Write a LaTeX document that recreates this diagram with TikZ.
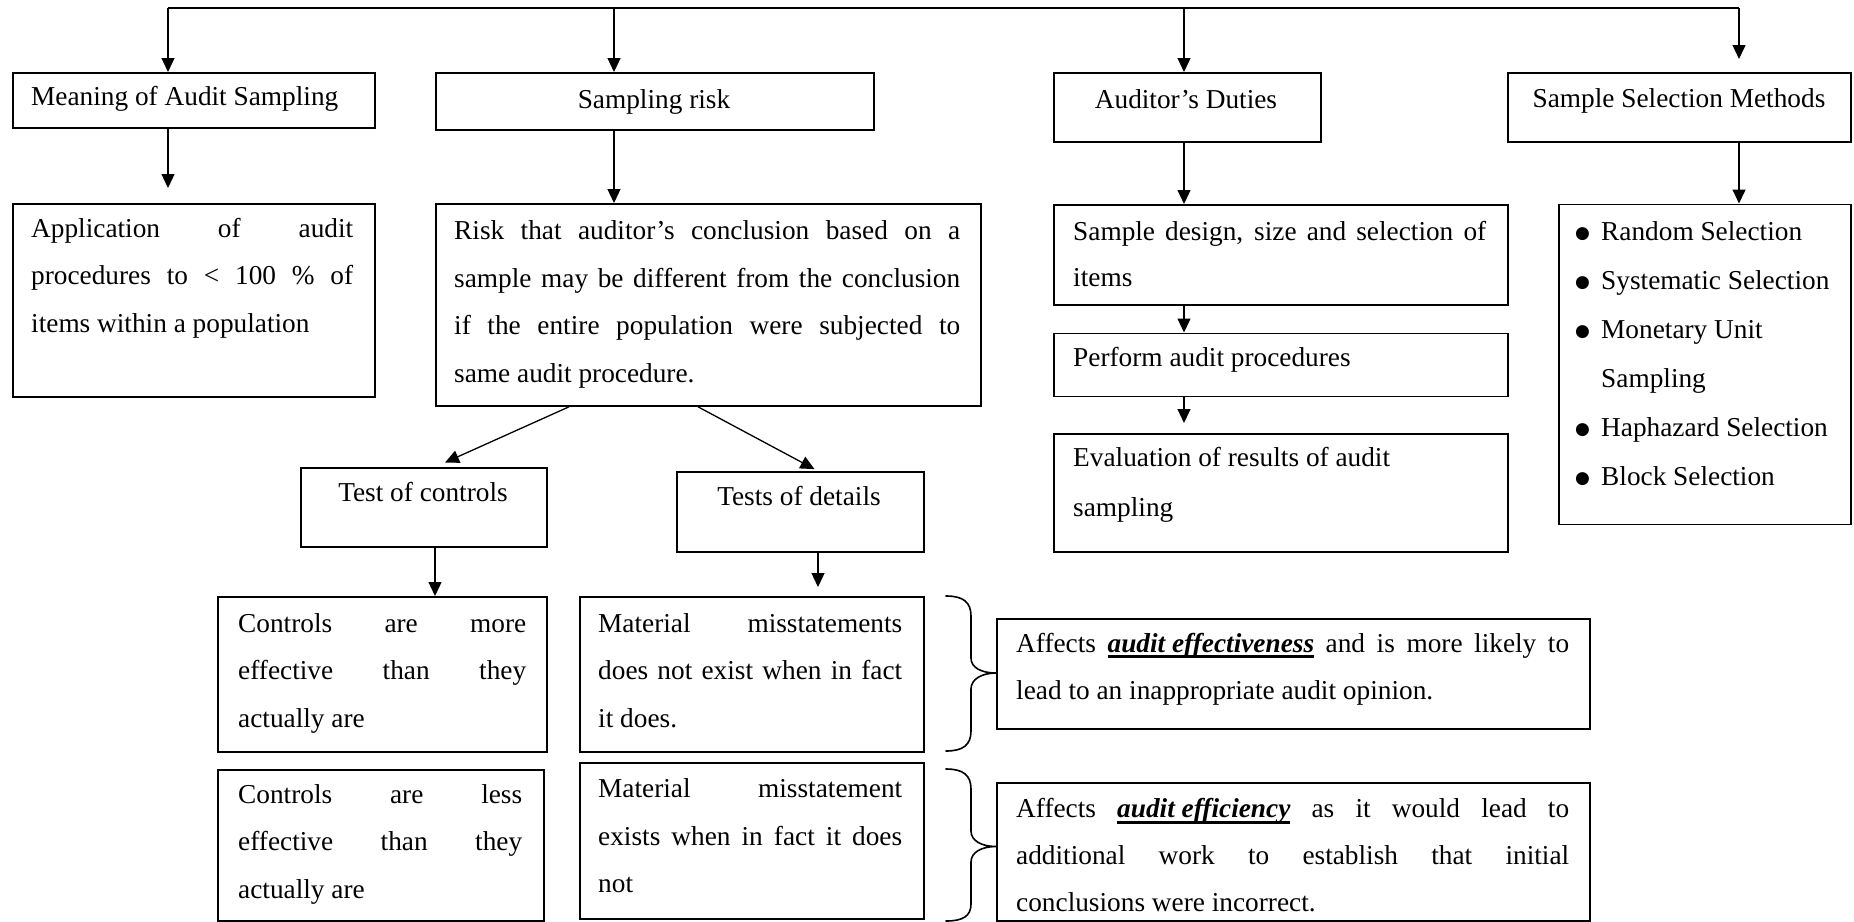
\documentclass[tikz,border=0pt]{standalone}
\usepackage{fontspec}
\setmainfont{Liberation Serif}
\newfontfamily\symfont{DejaVu Sans}
\usetikzlibrary{arrows.meta,calc}

% one justified line of a given width
\newcommand{\jl}[2]{\makebox[#1][s]{#2}}
% text block whose reference point is the first baseline
\newcommand{\tb}[2]{\parbox[t]{#1}{#2}}
% heavy underline set at a fixed depth
\newcommand{\ulx}[1]{\setbox0\hbox{#1}\rlap{\rule[-6.2pt]{\wd0}{2.9pt}}\box0\relax}
% list bullet and its hanging indent
\newcommand{\bul}{\makebox[25pt][l]{\hspace{-1pt}\raisebox{1.5pt}{\symfont\fontsize{17}{17}\selectfont ●}}}
\newcommand{\nobul}{\makebox[25pt][l]{}}

\begin{document}
\begin{tikzpicture}[x=1pt,y=-1pt,
  box/.style={draw, line width=1.8pt, inner sep=0pt, anchor=north west},
  txt/.style={anchor=base west, inner sep=0pt, font=\fontsize{27.3}{47.5}\selectfont},
  ctxt/.style={txt, anchor=base},
  link/.style={line width=1.3pt},
  arr/.style={line width=1.3pt, -{Triangle[length=14pt,width=13pt]}},
  bracestyle/.style={line width=1.6pt, line cap=round},
]
\useasboundingbox (0,0) rectangle (1854,921);

% ---------- boxes ----------
\node[box, minimum width=362, minimum height=55]  (meaning) at (12,72) {};
\node[box, minimum width=438, minimum height=57]  (srisk)   at (435,72) {};
\node[box, minimum width=267, minimum height=69]  (duties)  at (1053,72) {};
\node[box, minimum width=343, minimum height=69]  (ssm)     at (1507,72) {};

\node[box, minimum width=362, minimum height=193] (app)     at (12,203) {};
\node[box, minimum width=545, minimum height=202] (risk)    at (435,203) {};
\node[box, minimum width=454, minimum height=100] (design)  at (1053,204) {};
\node[box, minimum width=454, minimum height=63]  (perform) at (1053,332.5) {};
\node[box, minimum width=454, minimum height=118] (evalu)   at (1053,433) {};
\node[box, minimum width=292, minimum height=320] (list)    at (1558,203.5) {};

\node[box, minimum width=246, minimum height=79]  (toc)     at (300,467) {};
\node[box, minimum width=247, minimum height=80]  (tod)     at (676,471) {};

\node[box, minimum width=329, minimum height=155] (cmore)   at (217,596) {};
\node[box, minimum width=344, minimum height=155] (mat1)    at (579,596) {};
\node[box, minimum width=326, minimum height=151] (cless)   at (217,769) {};
\node[box, minimum width=344, minimum height=156] (mat2)    at (579,762) {};

\node[box, minimum width=593, minimum height=110] (eff1)    at (996,618) {};
\node[box, minimum width=593, minimum height=138] (eff2)    at (996,782) {};

% ---------- texts ----------
\node[txt]  (t-meaning) at (31,105.5) {Meaning of Audit Sampling};
\node[ctxt] (t-srisk)   at (654,108)  {Sampling risk};
\node[ctxt] (t-duties)  at (1186,108) {Auditor’s Duties};
\node[ctxt] (t-ssm)     at (1679,107.7) {Sample Selection Methods};

\node[txt] (t-app) at (31,237) {\tb{322pt}{%
  \jl{322pt}{Application of audit}\\
  \jl{322pt}{procedures to < 100 \% of}\\
  items within a population}};

\node[txt] (t-risk) at (454,239.5) {\tb{506pt}{%
  \jl{506pt}{Risk that auditor’s conclusion based on a}\\
  \jl{506pt}{sample may be different from the conclusion}\\
  \jl{506pt}{if the entire population were subjected to}\\
  same audit procedure.}};

\node[txt, font=\fontsize{27.3}{46.7}\selectfont] (t-design) at (1073,240) {\tb{413pt}{%
  \jl{413pt}{Sample design, size and selection of}\\
  items}};
\node[txt] (t-perform) at (1073,366.7) {Perform audit procedures};
\node[txt, font=\fontsize{27.3}{50}\selectfont] (t-evalu) at (1073,466) {\tb{413pt}{%
  Evaluation of results of audit\\
  sampling}};

\node[txt, font=\fontsize{27.3}{49}\selectfont] (t-list) at (1576,240) {\tb{270pt}{%
  \bul Random Selection\\
  \bul Systematic Selection\\
  \bul Monetary Unit\\
  \nobul Sampling\\
  \bul Haphazard Selection\\
  \bul Block Selection}};

\node[ctxt] (t-toc) at (423,501.5) {Test of controls};
\node[ctxt] (t-tod) at (799,505) {Tests of details};

\node[txt] (t-cmore) at (238,632) {\tb{288pt}{%
  \jl{288pt}{Controls are more}\\
  \jl{288pt}{effective than they}\\
  actually are}};
\node[txt] (t-mat1) at (598,632) {\tb{304pt}{%
  \jl{304pt}{Material misstatements}\\
  \jl{304pt}{does not exist when in fact}\\
  it does.}};
\node[txt] (t-cless) at (238,803) {\tb{284pt}{%
  \jl{284pt}{Controls are less}\\
  \jl{284pt}{effective than they}\\
  actually are}};
\node[txt] (t-mat2) at (598,797.5) {\tb{304pt}{%
  \jl{304pt}{Material misstatement}\\
  \jl{304pt}{exists when in fact it does}\\
  not}};

\node[txt, font=\fontsize{27.3}{47}\selectfont] (t-eff1) at (1016,652) {\tb{553pt}{%
  \jl{553pt}{Affects \ulx{\textbf{\textit{audit effectiveness}}} and is more likely to}\\
  lead to an inappropriate audit opinion.}};
\node[txt, font=\fontsize{27.3}{47.2}\selectfont] (t-eff2) at (1016,817.5) {\tb{553pt}{%
  \jl{553pt}{Affects \ulx{\textbf{\textit{audit efficiency}}} as it would lead to}\\
  \jl{553pt}{additional work to establish that initial}\\
  conclusions were incorrect.}};

% ---------- top bus and its drops ----------
\coordinate (b1) at (168,8);
\coordinate (b2) at (614,8);
\coordinate (b3) at (1184,8);
\coordinate (b4) at (1739,8);
\draw[link] (b1) -- (b4);
\draw[arr] (b1) -- (b1 |- meaning.north);
\draw[arr] (b2) -- (b2 |- srisk.north);
\draw[arr] (b3) -- (b3 |- duties.north);
\draw[arr, shorten >=13pt] (b4) -- (b4 |- ssm.north);

% ---------- column links ----------
\draw[arr, shorten >=15pt] (meaning.south -| b1) -- (app.north -| b1);
\draw[arr] (srisk.south -| b2) -- (risk.north -| b2);
\draw[arr] (duties.south -| b3) -- (design.north -| b3);
\draw[arr] (design.south -| b3) -- (perform.north -| b3);
\draw[arr, shorten >=10pt] (perform.south -| b3) -- (evalu.north -| b3);
\draw[arr] (ssm.south -| b4) -- (list.north -| b4);

% ---------- risk split ----------
\coordinate (rl) at (569,0);
\coordinate (rr) at (698,0);
\coordinate (cl) at (435,0);
\coordinate (cr) at (818,0);
\draw[arr, shorten >=11pt] (risk.south -| rl) -- (toc.north -| cl);
\draw[arr, shorten >=4pt] (risk.south -| rr) -- (tod.north -| cr);
\draw[arr] (toc.south -| cl) -- (cmore.north -| cl);
\draw[arr, shorten >=9pt] (tod.south -| cr) -- (mat1.north -| cr);

% ---------- braces ----------
\draw[bracestyle] (946,596) .. controls (963,596) and (971,602) .. (971,616)
  -- (971,658) .. controls (971,668) and (982,673) .. (996,673)
  .. controls (982,673) and (971,679) .. (971,689)
  -- (971,731) .. controls (971,745) and (963,751) .. (946,751);
\draw[bracestyle] (946,769) .. controls (963,769) and (971,775) .. (971,789)
  -- (971,831) .. controls (971,841) and (982,846.5) .. (996,846.5)
  .. controls (982,846.5) and (971,852) .. (971,862)
  -- (971,904) .. controls (971,916) and (963,921) .. (946,921);
\end{tikzpicture}
\end{document}
